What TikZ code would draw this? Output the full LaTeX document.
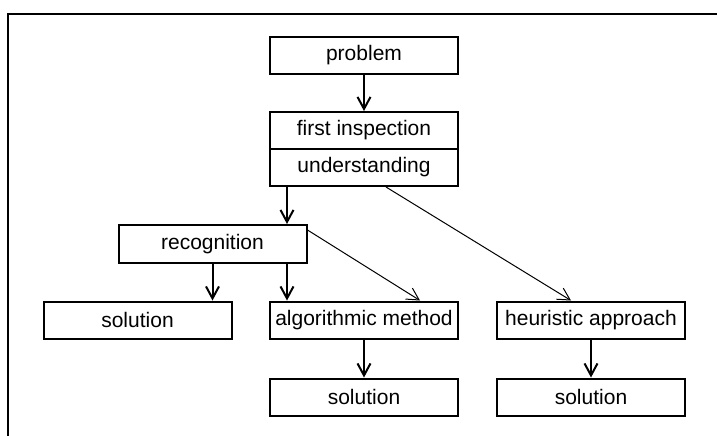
\documentclass[tikz,border=0pt]{standalone}
\usepackage{fontspec}
\setmainfont{Liberation Sans}
\usetikzlibrary{positioning, arrows.meta}

\begin{document}
\begin{tikzpicture}[x=0.5pt, y=-0.5pt,
>={Straight Barb[length=6pt,width=6.5pt]},
stage/.style={draw,line width=1pt,minimum width=94pt,minimum height=18.5pt,inner sep=0pt,font=\fontsize{10.5}{12}\selectfont},
flow/.style={->,line width=1pt},
jump/.style={->,line width=0.5pt},
node distance=19pt
]
\useasboundingbox (0,0) rectangle (717,435);
\draw[line width=1pt] (8,436) -- (8,13.5) -- (718,13.5);

\node[stage] (problem) at (364,55) {problem};
\node[stage] (insp) at (364,130.5) {first inspection};
\node[stage] (under) at (364,167.5) {understanding};
\node[stage,minimum height=19pt] (recog) at (212.5,244) {recognition};
\node[stage] (sol1) at (137.5,320) {solution};
\node[stage] (algo) at (364,320) {algorithmic method};
\node[stage] (heur) at (591,320) {heuristic approach};
\node[stage,below=of algo] (sol2) {solution};
\node[stage,below=of heur] (sol3) {solution};

\draw[flow] (problem) -- (insp);
\draw[flow] ([xshift=9pt]under.south west) -- ([xshift=9pt]under.south west |- recog.north);
\draw[flow] (recog.south) -- (recog.south |- sol1.north);
\draw[flow] ([xshift=9pt]algo.north west |- recog.south) -- ([xshift=9pt]algo.north west);
\draw[jump] ([yshift=-3pt]recog.north east) -- ([xshift=-19.5pt]algo.north east);
\draw[jump] ([xshift=11pt]under.south) -- ([xshift=-10pt]heur.north);
\draw[flow] (algo) -- (sol2);
\draw[flow] (heur) -- (sol3);
\end{tikzpicture}
\end{document}
